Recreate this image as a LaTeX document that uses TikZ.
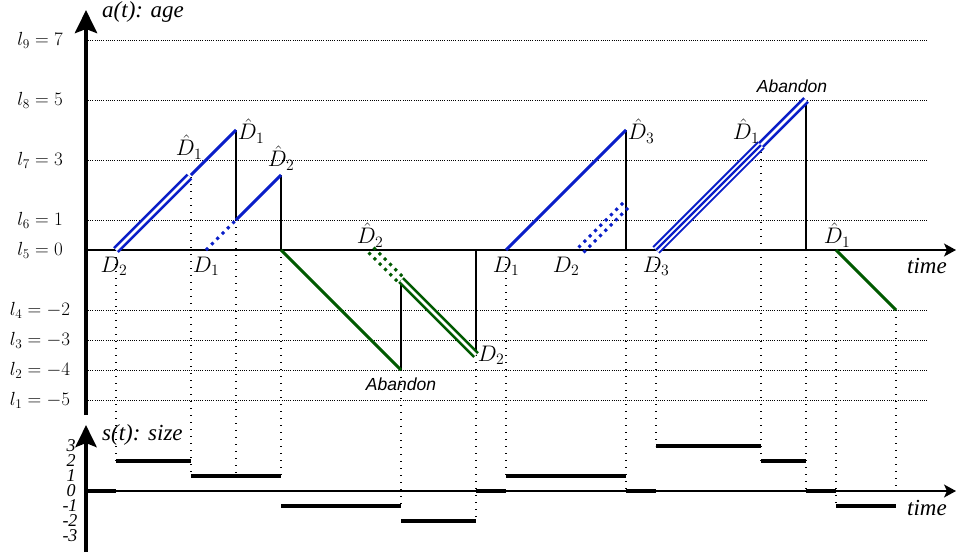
\documentclass[tikz,border=0pt]{standalone}
\usepackage{fix-cm}
\usepackage{fontspec}
\usetikzlibrary{arrows.meta}
\newfontfamily\tms{Liberation Serif}
\newfontfamily\hlv{Liberation Sans}
\definecolor{blueA}{RGB}{10,30,200}
\definecolor{greenA}{RGB}{0,90,0}
\tikzset{
  axthick/.style={line width=4.5pt},
  axthin/.style={line width=1.4pt},
  gridln/.style={line width=0.8pt, dash pattern=on 1pt off 1.2pt},
  vdot/.style={line width=1.3pt, dash pattern=on 1.3pt off 5.7pt},
  jump/.style={line width=1.2pt},
  bl/.style={draw=blueA, line width=3pt},
  bldouble/.style={draw=blueA, line width=2.6pt, double=white, double distance=2.8pt},
  bldot/.style={draw=blueA, line width=3pt, dash pattern=on 3pt off 4.5pt},
  gr/.style={draw=greenA, line width=3pt},
  grdouble/.style={draw=greenA, line width=2.6pt, double=white, double distance=2.8pt},
  grdot/.style={draw=greenA, line width=3pt, dash pattern=on 3pt off 4.5pt},
  seg/.style={line width=4pt},
  dlab/.style={inner sep=0pt, font=\fontsize{22.5}{22.5}\selectfont},
  lvl/.style={inner sep=0pt, font=\fontsize{19}{19}\selectfont},
  axlab/.style={inner sep=0pt, font=\tms\itshape\fontsize{23}{23}\selectfont},
  snum/.style={inner sep=0pt, font=\tms\itshape\fontsize{18}{18}\selectfont},
  aband/.style={inner sep=0pt, font=\hlv\itshape\fontsize{17.5}{17.5}\selectfont},
}
\begin{document}
\begin{tikzpicture}[x=1pt,y=-1pt]
\useasboundingbox (0,0) rectangle (956,557);
% ---------- horizontal grid lines ----------
\foreach \yy in {40,100,160,220,310,340,370,400}
  \draw[gridln] (88,\yy) -- (928,\yy);
% ---------- level labels ----------
\node[lvl] (l9) at (40,40)  {$l_9=7$};
\node[lvl] (l8) at (40,100) {$l_8=5$};
\node[lvl] (l7) at (40,160) {$l_7=3$};
\node[lvl] (l6) at (40,220) {$l_6=1$};
\node[lvl] (l5) at (40,250) {$l_5=0$};
\node[lvl] (l4) at (40,310) {$l_4=-2$};
\node[lvl] (l3) at (40,340) {$l_3=-3$};
\node[lvl] (l2) at (40,370) {$l_2=-4$};
\node[lvl] (l1) at (40,400) {$l_1=-5$};
% ---------- key points of a(t) ----------
\coordinate (P0) at (116,250);
\coordinate (P1) at (189.5,176.5);
\coordinate (P1b) at (191,175);
\coordinate (P2) at (236,130);
\coordinate (P3) at (236,220);
\coordinate (P3d) at (206,250);
\coordinate (P4) at (281,175);
\coordinate (P5) at (281,250);
\coordinate (P6) at (401,370);
\coordinate (P7) at (401,280);
\coordinate (P7d) at (371,250);
\coordinate (P8) at (476,355);
\coordinate (P9) at (476,250);
\coordinate (P10) at (506,250);
\coordinate (P11) at (626,130);
\coordinate (P12) at (626,250);
\coordinate (P11d) at (626,205);
\coordinate (P12d) at (581,250);
\coordinate (P13) at (656,250);
\coordinate (P14) at (761,145);
\coordinate (P15) at (806,100);
\coordinate (P16) at (806,250);
\coordinate (P17) at (836,250);
\coordinate (P18) at (896,310);
% ---------- vertical dotted guides ----------
\foreach \xx/\ya/\yb in {116/250/461, 191/177/476, 236/220/476, 281/250/476,
   401/370/506, 476/355/521, 506/250/476, 626/250/491, 656/250/446,
   761/145/461, 806/250/491, 836/250/506, 896/310/491}
  \draw[vdot] (\xx,\ya) -- (\xx,\yb);
% ---------- vertical jumps ----------
\draw[jump] (P2) -- (P3);
\draw[jump] (P4) -- (P5);
\draw[jump] (P6) -- (P7);
\draw[jump] (P8) -- (P9);
\draw[jump] (P11) -- (P12);
\draw[jump] (P15) -- (P16);
% ---------- time axis (top) ----------
\coordinate (TA0) at (86,250);
\coordinate (TA1) at (956,250);
\draw[axthin,-{Stealth[length=12pt,width=13pt,inset=3pt]}] (TA0) -- (TA1);
% ---------- blue paths ----------
\draw[bldouble] (P0) -- (P1);
\draw[bl] (P1b) -- (P2);
\draw[bldot] (P3d) -- (P3);
\draw[bl] (P3) -- (P4);
\draw[bl] (P10) -- (P11);
\draw[bldot] ([shift={(-2.5,-2.5)}]P12d) -- ([shift={(-2.5,-2.5)}]P11d);
\draw[bldot] ([shift={(2.5,2.5)}]P12d) -- ([shift={(2.5,2.5)}]P11d);
\draw[draw=blueA, line width=10pt] (P13) -- (P14);
\draw[draw=white, line width=6pt] (P13) -- (P14);
\draw[draw=blueA, line width=2.4pt] (P13) -- (P14);
\draw[bldouble] (P14) -- (P15);
% ---------- green paths ----------
\draw[gr] (P5) -- (P6);
\draw[grdot] ([shift={(2.5,-2.5)}]P7d) -- ([shift={(2.5,-2.5)}]P7);
\draw[grdot] ([shift={(-2.5,2.5)}]P7d) -- ([shift={(-2.5,2.5)}]P7);
\draw[grdouble] (P7) -- (P8);
\draw[gr] (P17) -- (P18);
% ---------- top vertical axis ----------
\coordinate (VA0) at (86,415);
\coordinate (VA1) at (86,10);
\draw[axthick,-{Stealth[length=23pt,width=22pt,inset=4pt]}] (VA0) -- (VA1);
\node[axlab, anchor=west] (alab) at (102,12) {a(t): age};
% ---------- labels on a(t) ----------
\node[dlab] (d2a) at (114,266) {$D_2$};
\node[dlab] (d1a) at (206,266) {$D_1$};
\node[dlab] (h1a) at (189,147) {$\hat{D}_1$};
\node[dlab] (h1b) at (251,131) {$\hat{D}_1$};
\node[dlab] (h2a) at (281,158) {$\hat{D}_2$};
\node[dlab] (h2b) at (370,235) {$\hat{D}_2$};
\node[aband] (ab1) at (401,384) {Abandon};
\node[dlab] (d2b) at (491,355) {$D_2$};
\node[dlab] (d1b) at (506,266) {$D_1$};
\node[dlab] (d2c) at (566,266) {$D_2$};
\node[dlab] (h3a) at (641,131) {$\hat{D}_3$};
\node[dlab] (d3a) at (656,266) {$D_3$};
\node[dlab] (h1c) at (746,131) {$\hat{D}_1$};
\node[aband] (ab2) at (792,86) {Abandon};
\node[dlab] (h1d) at (837,235) {$\hat{D}_1$};
\node[axlab] (tlab1) at (927,266) {time};
% ---------- s(t) axis ----------
\coordinate (SA0) at (86,491);
\coordinate (SA1) at (956,491);
\draw[line width=1.2pt,-{Stealth[length=12pt,width=13pt,inset=3pt]}] (SA0) -- (SA1);
\coordinate (SV0) at (86,552);
\coordinate (SV1) at (86,425);
\draw[axthick,-{Stealth[length=22pt,width=21pt,inset=4pt]}] (SV0) -- (SV1);
\node[axlab, anchor=west] (slab) at (102,435) {s(t): size};
\node[axlab] (tlab2) at (927,508) {time};
\node[snum] (n3) at (71,446) {3};
\node[snum] (n2) at (71,461) {2};
\node[snum] (n1) at (71,476) {1};
\node[snum] (n0) at (71,491) {0};
\node[snum] (nm1) at (70,506) {-1};
\node[snum] (nm2) at (70,521) {-2};
\node[snum] (nm3) at (70,536) {-3};
% ---------- step segments ----------
\foreach \xa/\xb/\yy in {86/116/491, 116/191/461, 191/236/476, 236/281/476,
   281/401/506, 401/476/521, 476/506/491, 506/626/476, 626/656/491,
   656/761/446, 761/806/461, 806/836/491, 836/896/506}
  \draw[seg] (\xa,\yy) -- (\xb,\yy);
\end{tikzpicture}
\end{document}
